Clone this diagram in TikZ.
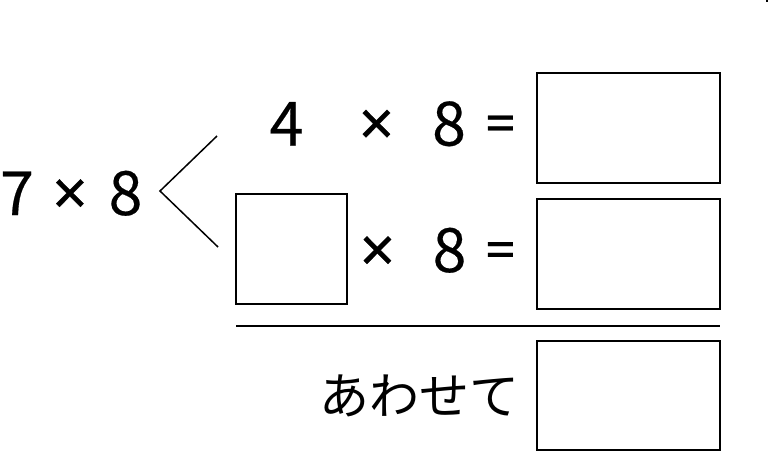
\documentclass[tikz,border=0pt]{standalone}
\usepackage{fontspec}
\newfontfamily\jp{Noto Sans CJK JP}
\newfontfamily\jpb{Noto Sans CJK JP}[FakeBold=0.3]
\newfontfamily\sym{Noto Sans}[FakeBold=0.5]
\begin{document}
\begin{tikzpicture}[x=1pt,y=-1pt,
  ansbox/.style={draw,line width=1.2pt},
  big/.style={inner sep=0pt,anchor=base,font=\jpb\fontsize{61}{61}\selectfont},
  op/.style={inner sep=0pt,anchor=base,font=\sym\fontsize{62}{62}\selectfont},
  eq/.style={inner sep=0pt,anchor=base,font=\sym\fontsize{54}{54}\selectfont},
  kana/.style={inner sep=0pt,anchor=base west,font=\jp\fontsize{50}{50}\selectfont}]
\useasboundingbox (0,0) rectangle (769,451);
\fill (766,0) rectangle (768,2);
% left expression
\node[big] (l7) at (17,215) {7};
\node[op] (lx) at (70,215) {×};
\node[big] (l8) at (125.5,215) {8};
% bracket
\coordinate (bt) at (217,136);
\coordinate (bv) at (160,191);
\coordinate (bb) at (218,247);
\draw[line width=1.5pt] (bt) -- (bv) -- (bb);
% row 1
\node[big] (r4) at (286.5,145.5) {4};
\node[op] (r1x) at (376.5,145.5) {×};
\node[big] (r18) at (449,145.5) {8};
\node[eq] (r1e) at (500.5,142) {=};
\draw[ansbox] (537,73) rectangle (720,183);
% row 2
\draw[ansbox] (236,194) rectangle (347,304);
\node[op] (r2x) at (377.5,272) {×};
\node[big] (r28) at (449.5,272) {8};
\node[eq] (r2e) at (500.5,268.5) {=};
\draw[ansbox] (537,199) rectangle (720,309);
% rule
\coordinate (ra) at (236,326);
\coordinate (rb) at (720,326);
\draw[line width=2pt] (ra) -- (rb);
% total
\node[kana] (aw) at (319,414) {あわせて};
\draw[ansbox] (537,341) rectangle (720,450);
\end{tikzpicture}
\end{document}
